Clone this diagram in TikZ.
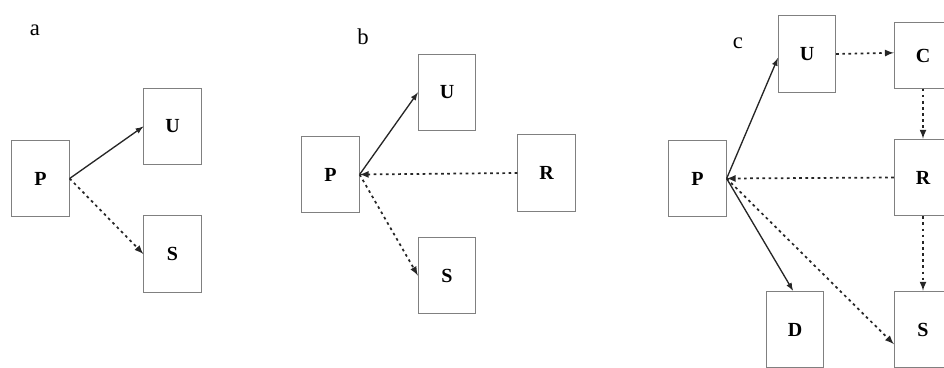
\documentclass[tikz,border=0pt]{standalone}
\usepackage{fontspec}
\setmainfont{Liberation Serif}
\usepackage{tikz}
\usetikzlibrary{positioning}

\begin{document}
\begin{tikzpicture}[
    x=0.75pt, y=-0.75pt,
    box/.style={draw=black!50, line width=0.7pt, fill=white, inner sep=0pt,
      minimum width=43pt, minimum height=57.5pt,
      font=\fontsize{15}{17}\selectfont\bfseries},
    panel/.style={font=\fontsize{17}{19}\selectfont},
    solid link/.style={draw=black!85, line width=1pt},
    dot link/.style={draw=black!85, line width=1.3pt, dash pattern=on 2pt off 2.6pt}
    ]

    \useasboundingbox (0,0) rectangle (944,367);

    % panel a
    \node[panel] (la) at (35,30) {a};
    \node[box] (pa) at (40.5,178.5) {P};
    \node[box] (ua) at (172.5,126.5) {U};
    \node[box] (sa) at (172.5,254) {S};

    % panel b
    \node[panel] (lb) at (363,37) {b};
    \node[box] (pb) at (330.5,174.5) {P};
    \node[box] (ub) at (447,92.5) {U};
    \node[box] (rb) at (546.5,173) {R};
    \node[box] (sb) at (447,275.5) {S};

    % panel c
    \node[panel] (lc) at (738,43) {c};
    \node[box] (pc) at (697.5,178.5) {P};
    \node[box] (uc) at (807,54) {U};
    \node[box, minimum height=49pt] (cc) at (923,55.5) {C};
    \node[box] (rc) at (923,177.5) {R};
    \node[box] (dc) at (795,329.5) {D};
    \node[box] (sc) at (923,329.5) {S};

    \path (pa.east) edge[solid link, -latex] (ua.west)
    (pa.east) edge[dot link, -latex] (sa.west)
    (pb.east) edge[solid link, -latex] (ub.west)
    (rb.west) edge[dot link, -latex] (pb.east)
    (pb.east) edge[dot link, -latex] (sb.west)
    (pc.east) edge[solid link, -latex] ([yshift=-3pt]uc.west)
    (uc.east) edge[dot link, -latex] ([yshift=2pt]cc.west)
    (cc.south) edge[dot link, -latex] (rc.north)
    (rc.west) edge[dot link, -latex] (pc.east)
    (rc.south) edge[dot link, -latex] (sc.north)
    (pc.east) edge[solid link, -latex] ([xshift=-1.5pt]dc.north)
    (pc.east) edge[dot link, -latex] ([yshift=-11pt]sc.west)
    ;

\end{tikzpicture}
\end{document}
